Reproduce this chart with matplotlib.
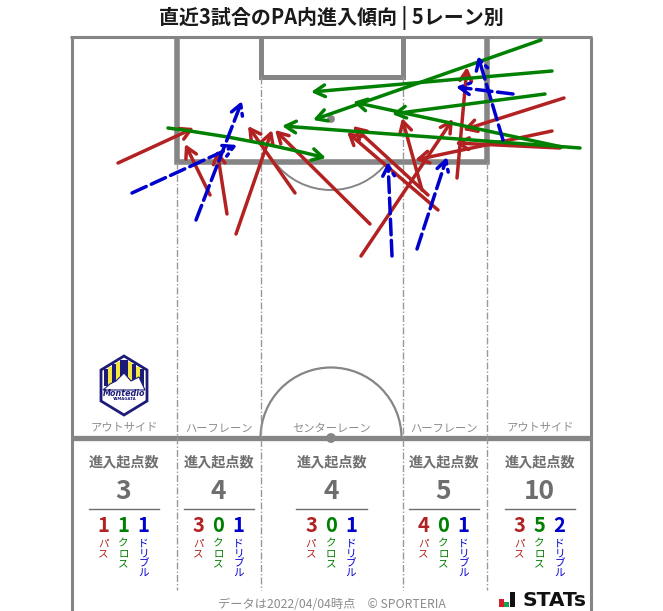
import matplotlib
matplotlib.use("Agg")
import matplotlib.pyplot as plt
from matplotlib.patches import Arc, Circle, FancyArrowPatch, Polygon, Rectangle

plt.rcParams['font.family'] = ['Noto Sans CJK JP', 'DejaVu Sans']

# arrows, pixels of the 663x611 image: (x start, y start, x end, y end, bend)
pass_arrows = [
    (118, 163, 194, 128, 0), (210, 195, 185, 144, 0), (227, 214, 217, 150, 0),
    (236, 234, 272, 130, 0), (295, 193, 248, 126, 0), (370, 224, 275, 130, 0),
    (361, 256, 453, 119, 0), (428, 195, 353, 126, 0), (438, 210, 347, 132, 0),
    (422, 190, 402, 118, 0), (457, 178, 467, 67, 0), (564, 98, 463, 130, 0),
    (552, 131, 415, 160, 0), (560, 148, 455, 143, 0),
]
cross_arrows = [
    (168, 128, 326, 158, -0.03), (541, 40, 313, 120, 0), (552, 71, 311, 92, 0),
    (545, 94, 392, 114, 0), (562, 147, 353, 102, 0), (580, 148, 282, 126, 0),
]
dribble_arrows = [
    (132, 193, 237, 145, 0), (196, 220, 242, 101, 0), (392, 256, 388, 162, 0),
    (417, 249, 447, 157, 0), (503, 140, 478, 56, 0), (513, 94, 456, 87, 0),
]

lane_names = ['アウトサイド', 'ハーフレーン', 'センターレーン', 'ハーフレーン', 'アウトサイド']
lane_totals = [3, 4, 4, 5, 10]
lane_pass = [1, 3, 3, 4, 3]
lane_cross = [1, 0, 0, 0, 5]
lane_dribble = [1, 1, 1, 1, 2]
lane_centers = [123.5, 218.5, 331, 443.5, 539.5]

GREY = '#858585'
TEXT_GREY = '#6e6e6e'
RED = '#b22222'
GREEN = '#008000'
BLUE = '#0000cd'
NAVY = '#1c1c78'

fig = plt.figure(figsize=(6.63, 6.11), dpi=100)
ax = fig.add_axes([0, 0, 1, 1])
ax.set_xlim(0, 663)
ax.set_ylim(611, 0)
ax.axis('off')

# pitch
ax.plot([71.5, 71.5], [37, 611], color=GREY, lw=2.2, solid_capstyle='butt')
ax.plot([591, 591], [37, 611], color=GREY, lw=2.2, solid_capstyle='butt')
ax.plot([70, 592], [37, 37], color=GREY, lw=2.2, solid_capstyle='butt')
ax.plot([176.5, 176.5, 486.5, 486.5], [37, 162, 162, 37], color=GREY, lw=4, solid_joinstyle='miter', solid_capstyle='butt')
ax.plot([260.5, 260.5, 402.5, 402.5], [37, 77, 77, 37], color=GREY, lw=3.6, solid_joinstyle='miter', solid_capstyle='butt')
ax.plot([71, 591], [438, 438], color=GREY, lw=3.8, solid_capstyle='butt')
ax.add_patch(Arc((331, 438), 141, 141, theta1=180, theta2=360, color=GREY, lw=1.6))
ax.add_patch(Arc((331, 119), 142, 142, theta1=37, theta2=143, color=GREY, lw=1.4))
ax.add_patch(Circle((331, 119), 3.2, color=GREY))
ax.add_patch(Circle((331, 438), 4.2, color=GREY, zorder=3))

for x, top in [(176.5, 162), (260.5, 77), (402.5, 77), (486.5, 162)]:
    ax.plot([x, x], [top, 590], color='#999999', lw=1, ls=(0, (5, 1.5, 1, 1.5)))


def draw_arrows(arrows, color, dashed=False):
    for x0, y0, x1, y1, bend in arrows:
        ax.add_patch(FancyArrowPatch(
            (x0, y0), (x1, y1), connectionstyle=f'arc3,rad={bend}',
            arrowstyle='->,head_length=7.5,head_width=4.2',
            color=color, lw=2.5, ls=(0, (4.5, 1.6)) if dashed else '-',
            shrinkA=0, shrinkB=0, mutation_scale=1, zorder=4,
        ))


draw_arrows(pass_arrows, RED)
draw_arrows(cross_arrows, GREEN)
draw_arrows(dribble_arrows, BLUE, dashed=True)

# team badge, hand drawn
ax.add_patch(Polygon([(124, 356), (147, 370), (147, 401), (124, 415), (101, 401), (101, 370)],
                     closed=True, fc='white', ec=NAVY, lw=2, zorder=5))
for x, top, col in [(106, 369, NAVY), (110, 367, '#f5e642'), (114, 364, NAVY), (118, 362, '#f5e642'),
                    (122, 360, NAVY), (126, 360, NAVY), (130, 362, '#f5e642'), (134, 364, NAVY),
                    (138, 367, '#f5e642'), (142, 369, NAVY)]:
    ax.add_patch(Rectangle((x - 1.6, top), 3.2, 386 - top, fc=col, ec='none', zorder=5))
ax.add_patch(Polygon([(103, 390), (110, 384), (116, 381), (124, 373), (131, 381), (139, 377), (145, 390)],
                     closed=True, fc='white', ec=NAVY, lw=0.8, zorder=6))
ax.text(124, 393.5, 'Montedio', fontsize=5.8, fontweight='bold', style='italic', color=NAVY,
        family='DejaVu Sans', ha='center', va='center', zorder=7)
ax.text(124, 399.5, 'YAMAGATA', fontsize=2.8, fontweight='bold', color=NAVY,
        family='DejaVu Sans', ha='center', va='center', zorder=7)

# lane tables
for i, cx in enumerate(lane_centers):
    ax.text(cx + 0.5, 428.5, lane_names[i], fontsize=8.1, color='#8c8c8c', ha='center', va='center')
    ax.text(cx + 0.5, 462, '進入起点数', fontsize=10.2, fontweight='bold', color=TEXT_GREY, ha='center', va='center')
    ax.text(cx, 491.5, str(lane_totals[i]), fontsize=19, fontweight='bold', color=TEXT_GREY, ha='center', va='center')
    ax.plot([cx - 35, cx + 35.5], [508.5, 508.5], color=TEXT_GREY, lw=1)
    for dx, val, name, col in [(-20, lane_pass[i], 'パス', RED), (0, lane_cross[i], 'クロス', GREEN),
                               (20, lane_dribble[i], 'ドリブル', BLUE)]:
        ax.text(cx + dx, 526, str(val), fontsize=14.5, fontweight='bold', color=col, ha='center', va='center')
        for k, ch in enumerate(name):
            ax.text(cx + dx, 544 + k * 9.8, ch, fontsize=7.6, color=col, ha='center', va='center')

ax.text(331, 18, '直近3試合のPA内進入傾向 | 5レーン別', fontsize=14.4, fontweight='bold', color='#1a1a1a',
        ha='center', va='center')
ax.text(331.5, 604, 'データは2022/04/04時点　© SPORTERIA', fontsize=8.8, color='#8c8c8c', ha='center', va='center')

# STATS logo
ax.add_patch(Rectangle((499, 599), 4.5, 8, fc='#d0202a', ec='none'))
ax.add_patch(Rectangle((504, 602), 4.5, 5, fc='#1aa050', ec='none'))
ax.add_patch(Rectangle((509.5, 592), 5.5, 15, fc='#111111', ec='none'))
ax.text(522, 600, 'STATs', fontsize=14.6, fontweight='bold', color='#111111', family='DejaVu Sans',
        ha='left', va='center')

fig.savefig('out.png', dpi=100)
